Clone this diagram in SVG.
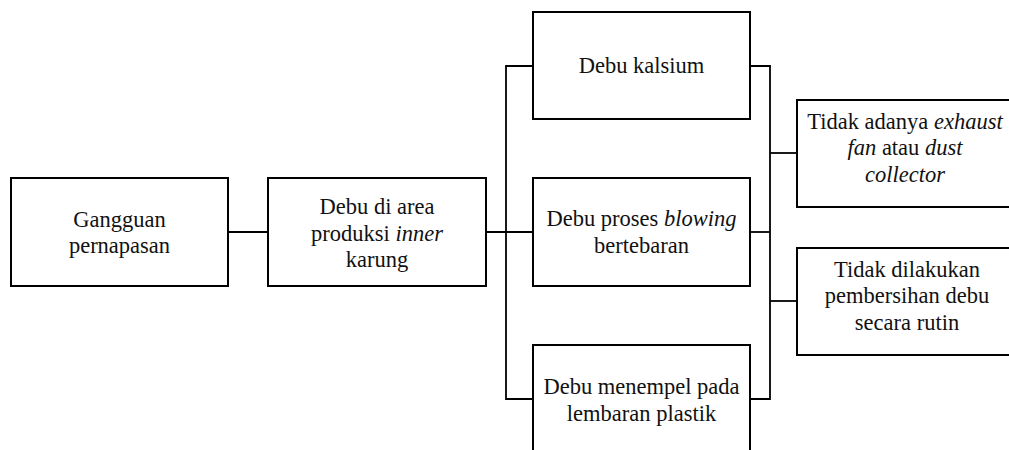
<svg xmlns="http://www.w3.org/2000/svg" width="1009" height="450" viewBox="0 0 1009 450">
  <style>
    .box { fill: #fff; stroke: #000; stroke-width: 2; }
    .lbl { font-family: "Liberation Serif", "Times New Roman", serif; font-size: 22.5px; fill: #111; text-anchor: middle; }
    .it { font-style: italic; }
    .wire { fill: none; stroke: #000; stroke-width: 1.8; }
  </style>
  <rect width="1009" height="450" fill="#fff"/>

  <!-- connectors -->
  <g id="connectors">
    <path class="wire" stroke-width="1.4" d="M228 232 H268"/>
    <path class="wire" d="M486 232 H533"/>
    <path class="wire" d="M533 66 H506 V399 H533"/>
    <path class="wire" d="M750 66 H770 V399 H750"/>
    <path class="wire" d="M750 232 H770"/>
    <path class="wire" d="M770 153 H797"/>
    <path class="wire" d="M770 301 H797"/>
  </g>

  <g id="gangguan">
    <rect class="box" x="11" y="178" width="217" height="108"/>
    <text class="lbl" x="119.5" y="226.5">Gangguan</text>
    <text class="lbl" x="119.5" y="253">pernapasan</text>
  </g>

  <g id="debu-area">
    <rect class="box" x="268" y="178" width="218" height="108"/>
    <text class="lbl" x="377" y="213.5">Debu di area</text>
    <text class="lbl" x="377" y="240.5">produksi <tspan class="it">inner</tspan></text>
    <text class="lbl" x="377" y="267">karung</text>
  </g>

  <g id="debu-kalsium">
    <rect class="box" x="533" y="12" width="217" height="107"/>
    <text class="lbl" x="641.5" y="73">Debu kalsium</text>
  </g>

  <g id="debu-blowing">
    <rect class="box" x="533" y="178" width="217" height="108"/>
    <text class="lbl" x="641.5" y="226">Debu proses <tspan class="it">blowing</tspan></text>
    <text class="lbl" x="641.5" y="253">bertebaran</text>
  </g>

  <g id="debu-plastik">
    <rect class="box" x="533" y="345" width="217" height="110"/>
    <text class="lbl" x="641.5" y="394">Debu menempel pada</text>
    <text class="lbl" x="641.5" y="420.5">lembaran plastik</text>
  </g>

  <g id="exhaust">
    <rect class="box" x="797" y="100" width="216" height="107"/>
    <text class="lbl" x="905" y="128.5">Tidak adanya <tspan class="it">exhaust</tspan></text>
    <text class="lbl" x="905" y="155"><tspan class="it">fan</tspan> atau <tspan class="it">dust</tspan></text>
    <text class="lbl" x="905" y="181.5"><tspan class="it">collector</tspan></text>
  </g>

  <g id="pembersihan">
    <rect class="box" x="797" y="248" width="220" height="107"/>
    <text class="lbl" x="907" y="276.5">Tidak dilakukan</text>
    <text class="lbl" x="907" y="303">pembersihan debu</text>
    <text class="lbl" x="907" y="329.5">secara rutin</text>
  </g>
</svg>
